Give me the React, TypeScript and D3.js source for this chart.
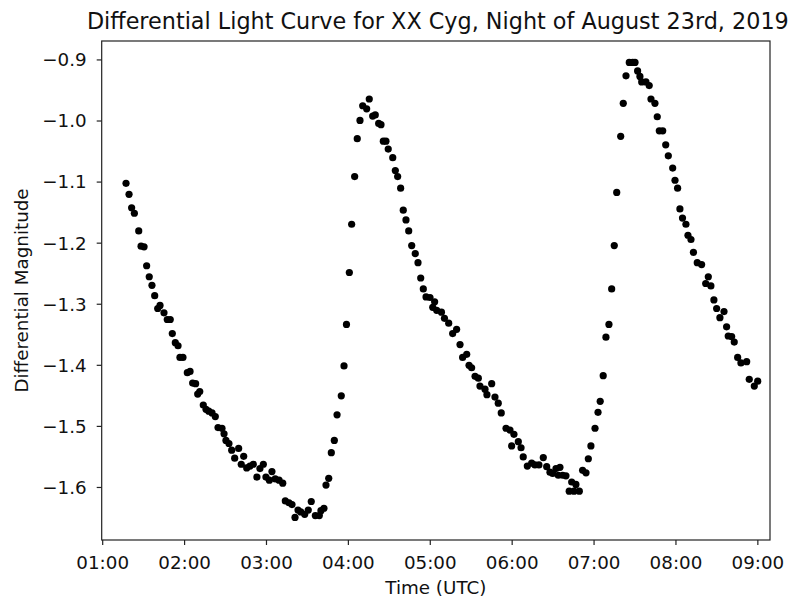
import React from "react";
import * as d3 from "d3";

// Observation times, minutes after 00:00 UTC on 2019-08-23
const timeMinutes: number[] = [
  77.1, 79.3, 81.2, 83.2, 86.4, 88.1, 90.3, 92.2, 94.1, 96.1, 98.1, 100.3, 102.0, 104.9, 107.3, 109.5,
  111.0, 113.2, 115.2, 116.6, 118.8, 122.0, 124.0, 125.9, 128.1, 129.6, 131.1, 133.7, 135.7, 137.7,
  140.1, 142.5, 144.5, 147.4, 148.9, 150.3, 152.5, 154.5, 156.7, 159.6, 161.5, 163.3, 165.5, 167.9,
  170.3, 173.0, 175.2, 177.7, 179.6, 182.1, 184.0, 186.4, 189.2, 191.9, 193.8, 196.5, 198.7, 200.9,
  203.1, 205.1, 208.0, 210.6, 212.8, 215.8, 218.7, 219.9, 222.1, 223.6, 225.6, 227.5, 229.7, 231.7,
  234.8, 236.8, 238.6, 240.7, 242.4, 244.6, 246.5, 248.5, 250.5, 253.4, 255.3, 257.8, 259.7, 262.2,
  263.9, 265.6, 267.5, 269.2, 272.5, 274.4, 276.1, 278.3, 280.2, 282.2, 284.2, 286.4, 289.0, 291.0,
  293.0, 294.9, 296.9, 299.8, 301.8, 303.2, 304.7, 308.2, 310.4, 313.5, 316.4, 319.3, 321.8, 323.7,
  326.7, 328.4, 330.3, 332.8, 335.2, 336.4, 340.1, 341.5, 345.0, 347.4, 349.8, 352.0, 355.5, 358.4,
  359.6, 361.3, 364.5, 366.5, 368.1, 371.1, 374.3, 376.7, 379.6, 382.8, 385.3, 387.7, 389.7, 392.1,
  393.8, 395.0, 397.0, 399.4, 401.8, 403.6, 405.3, 406.7, 409.2, 411.6, 414.1, 415.8, 417.7, 420.7,
  422.9, 424.5, 426.7, 428.7, 430.9, 432.9, 434.8, 436.6, 439.5, 441.4, 443.4, 445.8, 448.3, 450.0,
  451.9, 453.6, 454.9, 458.0, 460.4, 461.7, 464.6, 466.3, 467.8, 470.3, 472.5, 474.4, 477.6, 479.3,
  481.2, 482.9, 484.8, 487.3, 488.8, 491.0, 492.8, 495.6, 498.8, 501.8, 503.7, 505.6, 507.8, 509.8,
  512.2, 515.2, 517.1, 518.3, 520.8, 522.7, 525.2, 527.6, 531.8, 533.7, 537.4, 539.9,
];

const magnitudes: number[] = [
  -1.102, -1.12, -1.142, -1.151, -1.18, -1.205, -1.206, -1.237, -1.255, -1.269, -1.286, -1.307, -1.302, -1.314, -1.325, -1.325,
  -1.348, -1.363, -1.368, -1.387, -1.387, -1.412, -1.41, -1.429, -1.43, -1.447, -1.443, -1.465, -1.472, -1.475,
  -1.478, -1.484, -1.502, -1.503, -1.512, -1.523, -1.528, -1.539, -1.552, -1.536, -1.562, -1.549, -1.568, -1.565,
  -1.562, -1.583, -1.569, -1.562, -1.583, -1.588, -1.574, -1.586, -1.588, -1.593, -1.622, -1.625, -1.628, -1.649,
  -1.637, -1.64, -1.644, -1.637, -1.623, -1.646, -1.646, -1.638, -1.634, -1.596, -1.585, -1.543, -1.523, -1.481,
  -1.45, -1.401, -1.333, -1.248, -1.169, -1.091, -1.029, -0.999, -0.975, -0.98, -0.964, -0.992, -0.99, -1.004,
  -1.006, -1.033, -1.033, -1.046, -1.06, -1.081, -1.091, -1.11, -1.146, -1.162, -1.18, -1.204, -1.217, -1.232,
  -1.257, -1.275, -1.288, -1.289, -1.305, -1.296, -1.31, -1.313, -1.323, -1.331, -1.348, -1.341, -1.366, -1.387,
  -1.382, -1.4, -1.404, -1.418, -1.421, -1.434, -1.439, -1.448, -1.43, -1.452, -1.462, -1.478, -1.503, -1.506,
  -1.532, -1.513, -1.525, -1.535, -1.55, -1.565, -1.56, -1.563, -1.563, -1.551, -1.566, -1.575, -1.577, -1.569,
  -1.58, -1.567, -1.58, -1.581, -1.606, -1.591, -1.606, -1.595, -1.606, -1.572, -1.576, -1.553, -1.532, -1.503,
  -1.477, -1.459, -1.417, -1.354, -1.333, -1.275, -1.204, -1.117, -1.025, -0.971, -0.926, -0.904, -0.904, -0.904,
  -0.918, -0.927, -0.936, -0.936, -0.942, -0.964, -0.971, -0.993, -1.016, -1.016, -1.039, -1.057, -1.077, -1.097,
  -1.11, -1.144, -1.159, -1.169, -1.187, -1.194, -1.215, -1.232, -1.235, -1.266, -1.255, -1.27, -1.293, -1.307,
  -1.322, -1.312, -1.337, -1.352, -1.353, -1.362, -1.387, -1.396, -1.394, -1.423, -1.434, -1.426,
];

const yTickValues: number[] = [-0.9, -1.0, -1.1, -1.2, -1.3, -1.4, -1.5, -1.6];
const xTickLabels: string[] = ["01:00", "02:00", "03:00", "04:00", "05:00", "06:00", "07:00", "08:00", "09:00"];

const TITLE = "Differential Light Curve for XX Cyg, Night of August 23rd, 2019";
const X_LABEL = "Time (UTC)";
const Y_LABEL = "Differential Magnitude";

const W = 788;
const H = 599;
const M = { left: 101.7, right: 770, top: 41, bottom: 540 };
const FONT = "'DejaVu Sans', sans-serif";
const FS = 18.3;

const base = Date.UTC(2019, 7, 23, 0, 0, 0);
const toDate = (min: number) => new Date(base + min * 60000);

export default function App() {
  const x = d3.scaleUtc().domain([toDate(59.27), toDate(548.9)]).range([M.left, M.right]);
  const y = d3.scaleLinear().domain([-0.869, -1.686]).range([M.top, M.bottom]);
  const xTicks = xTickLabels.map((lab) => {
    const [h, m] = lab.split(":").map(Number);
    return { lab, d: toDate(h * 60 + m) };
  });
  const fmtY = d3.format(".1f");
  const pts = timeMinutes.map((t, i) => ({ t: toDate(t), m: magnitudes[i] }));

  return (
    <svg
      width={W}
      height={H}
      style={{ position: "fixed", left: 0, top: 0, background: "#fff" }}
      fontFamily={FONT}
    >
      <rect x={0} y={0} width={W} height={H} fill="#fff" />
      {pts.map((p, i) => (
        <circle key={i} cx={x(p.t)} cy={y(p.m)} r={3.6} fill="#000" />
      ))}
      <rect
        x={M.left}
        y={M.top}
        width={M.right - M.left}
        height={M.bottom - M.top}
        fill="none"
        stroke="#222"
        strokeWidth={1.2}
      />
      {xTicks.map((tk) => (
        <g key={tk.lab} transform={`translate(${x(tk.d)},${M.bottom})`}>
          <line y1={0} y2={5} stroke="#222" strokeWidth={1.2} />
          <text y={28.5} textAnchor="middle" fontSize={FS} fill="#111">
            {tk.lab}
          </text>
        </g>
      ))}
      {yTickValues.map((v) => (
        <g key={v} transform={`translate(${M.left},${y(v)})`}>
          <line x1={0} x2={-5} stroke="#222" strokeWidth={1.2} />
          <text x={-15} dy="0.35em" textAnchor="end" fontSize={FS} fill="#111">
            {fmtY(v).replace("-", "\u2212")}
          </text>
        </g>
      ))}
      <text x={(M.left + M.right) / 2} y={594} textAnchor="middle" fontSize={FS} fill="#111">
        {X_LABEL}
      </text>
      <text
        transform={`translate(28,${(M.top + M.bottom) / 2}) rotate(-90)`}
        textAnchor="middle"
        fontSize={FS}
        fill="#111"
      >
        {Y_LABEL}
      </text>
      <text x={(M.left + M.right) / 2 + 2} y={29} textAnchor="middle" fontSize={22.3} fill="#111">
        {TITLE}
      </text>
    </svg>
  );
}
